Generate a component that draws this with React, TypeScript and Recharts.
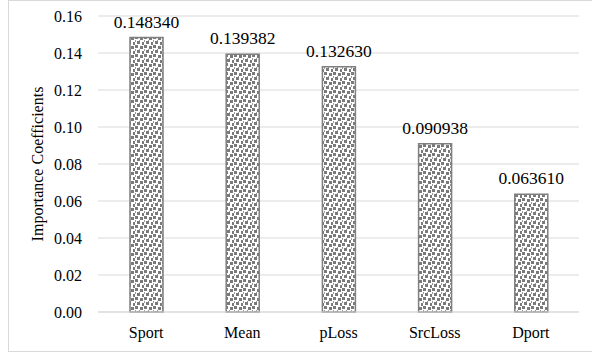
import React from "react";
import { BarChart, Bar, XAxis, YAxis, CartesianGrid, LabelList } from "recharts";

const categories = ["Sport", "Mean", "pLoss", "SrcLoss", "Dport"];
const importance = [0.14834, 0.139382, 0.13263, 0.090938, 0.06361];
const yTicks = [0, 0.02, 0.04, 0.06, 0.08, 0.1, 0.12, 0.14, 0.16];

const data = categories.map((name, i) => ({ name, value: importance[i] }));

const FONT = "Liberation Serif";

export default function App() {
  return (
    <div style={{ position: "absolute", left: 0, top: 0, width: 592, height: 354, background: "#fff", fontFamily: FONT }}>
      <div
        style={{
          position: "absolute",
          left: 8,
          top: 0,
          width: 584,
          height: 352,
          borderLeft: "1px solid #d9d9d9",
          borderTop: "1px solid #d9d9d9",
          borderBottom: "1px solid #d9d9d9",
          boxSizing: "border-box",
        }}
      />
      <BarChart
        width={592}
        height={354}
        data={data}
        margin={{ top: 16, right: 13, bottom: 12, left: 8 }}
        barSize={33}
        style={{ position: "absolute", left: 0, top: 0, fontFamily: FONT }}
      >
        <defs>
          <pattern id="confetti" width="9" height="9" patternUnits="userSpaceOnUse">
            <rect x="0" y="0" width="9" height="9" fill="#ffffff" />
            <rect x="0" y="0" width="3" height="3" fill="#7a7a7a" />
            <rect x="5" y="1" width="3" height="3" fill="#7a7a7a" />
            <rect x="2" y="5" width="3" height="3" fill="#7a7a7a" />
            <rect x="7" y="6" width="2" height="3" fill="#7a7a7a" />
            <rect x="4" y="4" width="1" height="1" fill="#9a9a9a" />
            <rect x="0" y="4" width="1" height="2" fill="#9a9a9a" />
          </pattern>
        </defs>
        <CartesianGrid vertical={false} stroke="#d9d9d9" strokeWidth={1} />
        <XAxis
          dataKey="name"
          axisLine={{ stroke: "#d9d9d9" }}
          tickLine={false}
          tickMargin={9}
          height={30}
          tick={{ fill: "#000", fontSize: 16, fontFamily: FONT }}
        />
        <YAxis
          domain={[0, 0.16]}
          ticks={yTicks}
          interval={0}
          width={90}
          axisLine={false}
          tickLine={false}
          tickMargin={10}
          tickFormatter={(v: number) => v.toFixed(2)}
          tick={{ fill: "#000", fontSize: 16, fontFamily: FONT }}
          label={{
            value: "Importance Coefficients",
            angle: -90,
            position: "center",
            dx: -16,
            style: { fill: "#000", fontSize: 16, fontFamily: FONT, textAnchor: "middle" },
          }}
        />
        <Bar
          dataKey="value"
          fill="url(#confetti)"
          stroke="#7f7f7f"
          strokeWidth={1.5}
          isAnimationActive={false}
        >
          <LabelList
            dataKey="value"
            position="top"
            offset={10}
            formatter={(v: number) => v.toFixed(6)}
            style={{ fill: "#000", fontSize: 17.5, fontFamily: FONT }}
          />
        </Bar>
      </BarChart>
    </div>
  );
}
